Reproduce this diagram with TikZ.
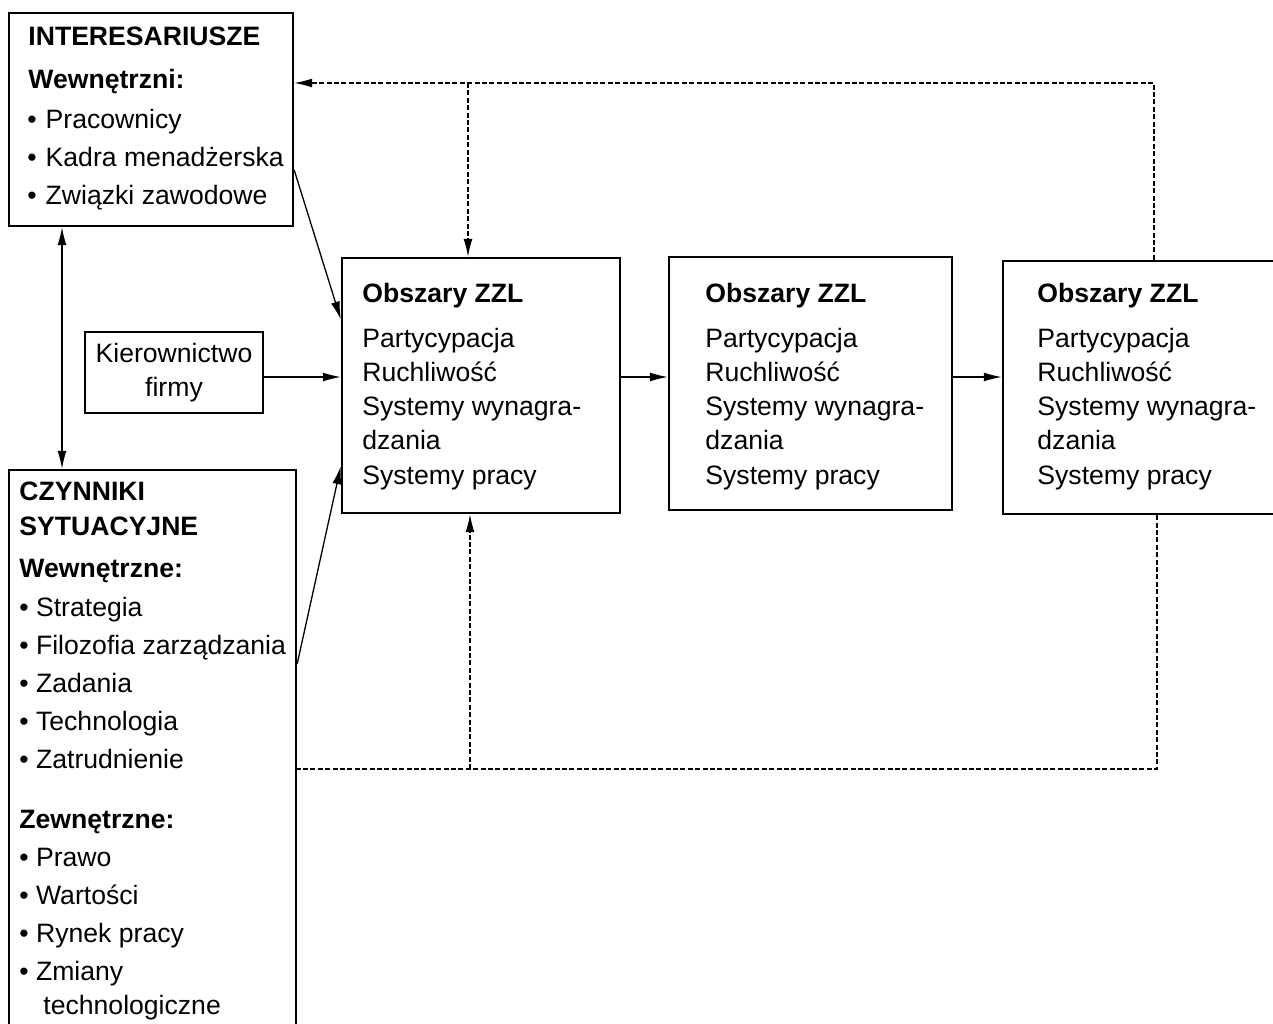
\documentclass[tikz,border=0pt]{standalone}
\usepackage{fontspec}
\setmainfont{Liberation Sans}
\usetikzlibrary{calc,positioning,arrows.meta}
\tikzset{
  boxNode/.style={draw, line width=1.2pt, inner sep=0pt},
  lineText/.style={anchor=base west, inner sep=0pt, font=\fontsize{13.3pt}{16pt}\selectfont},
  headText/.style={lineText, font=\fontsize{13.3pt}{16pt}\selectfont\bfseries},
  flow/.style={-{Latex[length=9pt,width=4.5pt]}, line width=0.65pt},
  flowBoth/.style={{Latex[length=9pt,width=4.5pt]}-{Latex[length=9pt,width=4.5pt]}, line width=0.65pt},
  feedback/.style={line width=0.7pt, dash pattern=on 2.5pt off 1.2pt},
  feedbackArrow/.style={feedback, -{Latex[length=9pt,width=4.5pt]}}
}
\begin{document}
\begin{tikzpicture}[x=0.5pt, y=-0.5pt]
  \useasboundingbox (0,0) rectangle (1273,1023);
  \clip (0,0) rectangle (1273,1023);

  % Ramki
  \node[boxNode, minimum width=142pt, minimum height=106.5pt] (inter) at (151,119.5) {};
  \node[boxNode, minimum width=89pt, minimum height=40.5pt, align=center,
        font=\fontsize{13.3pt}{17pt}\selectfont] (kier) at (174,372.5) {Kierownictwo\\firmy};
  \node[boxNode, minimum width=143.5pt, minimum height=285pt] (czyn) at (152.5,755) {};
  \node[boxNode, minimum width=139pt, minimum height=127.5pt] (zzl1) at (481,385.5) {};
  \node[boxNode, minimum width=141.5pt, minimum height=126.5pt] (zzl2) at (810.5,383.5) {};
  \node[boxNode, minimum width=143.5pt, minimum height=126.5pt] (zzl3) at (1146.5,387.5) {};

  % Interesariusze
  \node[headText] (interHead) at (28,45) {INTERESARIUSZE};
  \node[headText] (interSub) at (28,88) {Wewnętrzni:};
  \foreach \txt [count=\i] in {Pracownicy, Kadra menadżerska, Związki zawodowe}
    \node[lineText] (interItem\i) at (27,90+38*\i) {•\kern4.5pt\txt};

  % Czynniki sytuacyjne
  \node[headText] (czynHead1) at (19,500) {CZYNNIKI};
  \node[headText] (czynHead2) at (19,535) {SYTUACYJNE};
  \node[headText] (czynSub1) at (19,577) {Wewnętrzne:};
  \foreach \txt [count=\i] in {Strategia, Filozofia zarządzania, Zadania, Technologia, Zatrudnienie}
    \node[lineText] (czynIn\i) at (19,578+38*\i) {•\ \txt};
  \node[headText] (czynSub2) at (19,828) {Zewnętrzne:};
  \foreach \txt [count=\i] in {Prawo, Wartości, Rynek pracy, Zmiany}
    \node[lineText] (czynOut\i) at (19,828+38*\i) {•\ \txt};
  \node[lineText] (czynOut5) at (43,1014) {technologiczne};

  % Obszary ZZL
  \foreach \b/\tx in {zzl1/362, zzl2/705, zzl3/1037}{
    \node[headText] (\b-head) at (\tx,302) {Obszary ZZL};
    \foreach \txt [count=\i] in {Partycypacja, Ruchliwość, Systemy wynagra-, dzania, Systemy pracy}
      \node[lineText] (\b-line\i) at (\tx,312.7+34.3*\i) {\txt};
  }

  % Polaczenia
  \coordinate (vLink) at (62,0);
  \coordinate (rowY) at (0,377);
  \draw[flowBoth] (inter.south -| vLink) -- (czyn.north -| vLink);
  \draw[flow] ($(inter.east)+(0,50.5)$) -- ($(zzl1.west)+(0,-66)$);
  \draw[flow] (kier.east |- rowY) -- (zzl1.west |- rowY);
  \draw[flow] ($(czyn.north east)+(0,195)$) -- ($(zzl1.south west)+(0,-48)$);
  \draw[flow] (zzl1.east |- rowY) -- (zzl2.west |- rowY);
  \draw[flow] (zzl2.east |- rowY) -- (zzl3.west |- rowY);

  % Sprzezenia zwrotne
  \coordinate (loopTop) at (468,83);
  \coordinate (loopBot) at (470,769);
  \draw[feedbackArrow] ($(zzl3.north west)+(152,0)$) |- (inter.east |- loopTop);
  \draw[feedbackArrow] (loopTop) -- (loopTop |- zzl1.north);
  \draw[feedback] ($(zzl3.south west)+(155,0)$) |- (czyn.east |- loopBot);
  \draw[feedbackArrow] (loopBot) -- (loopBot |- zzl1.south);
\end{tikzpicture}
\end{document}
